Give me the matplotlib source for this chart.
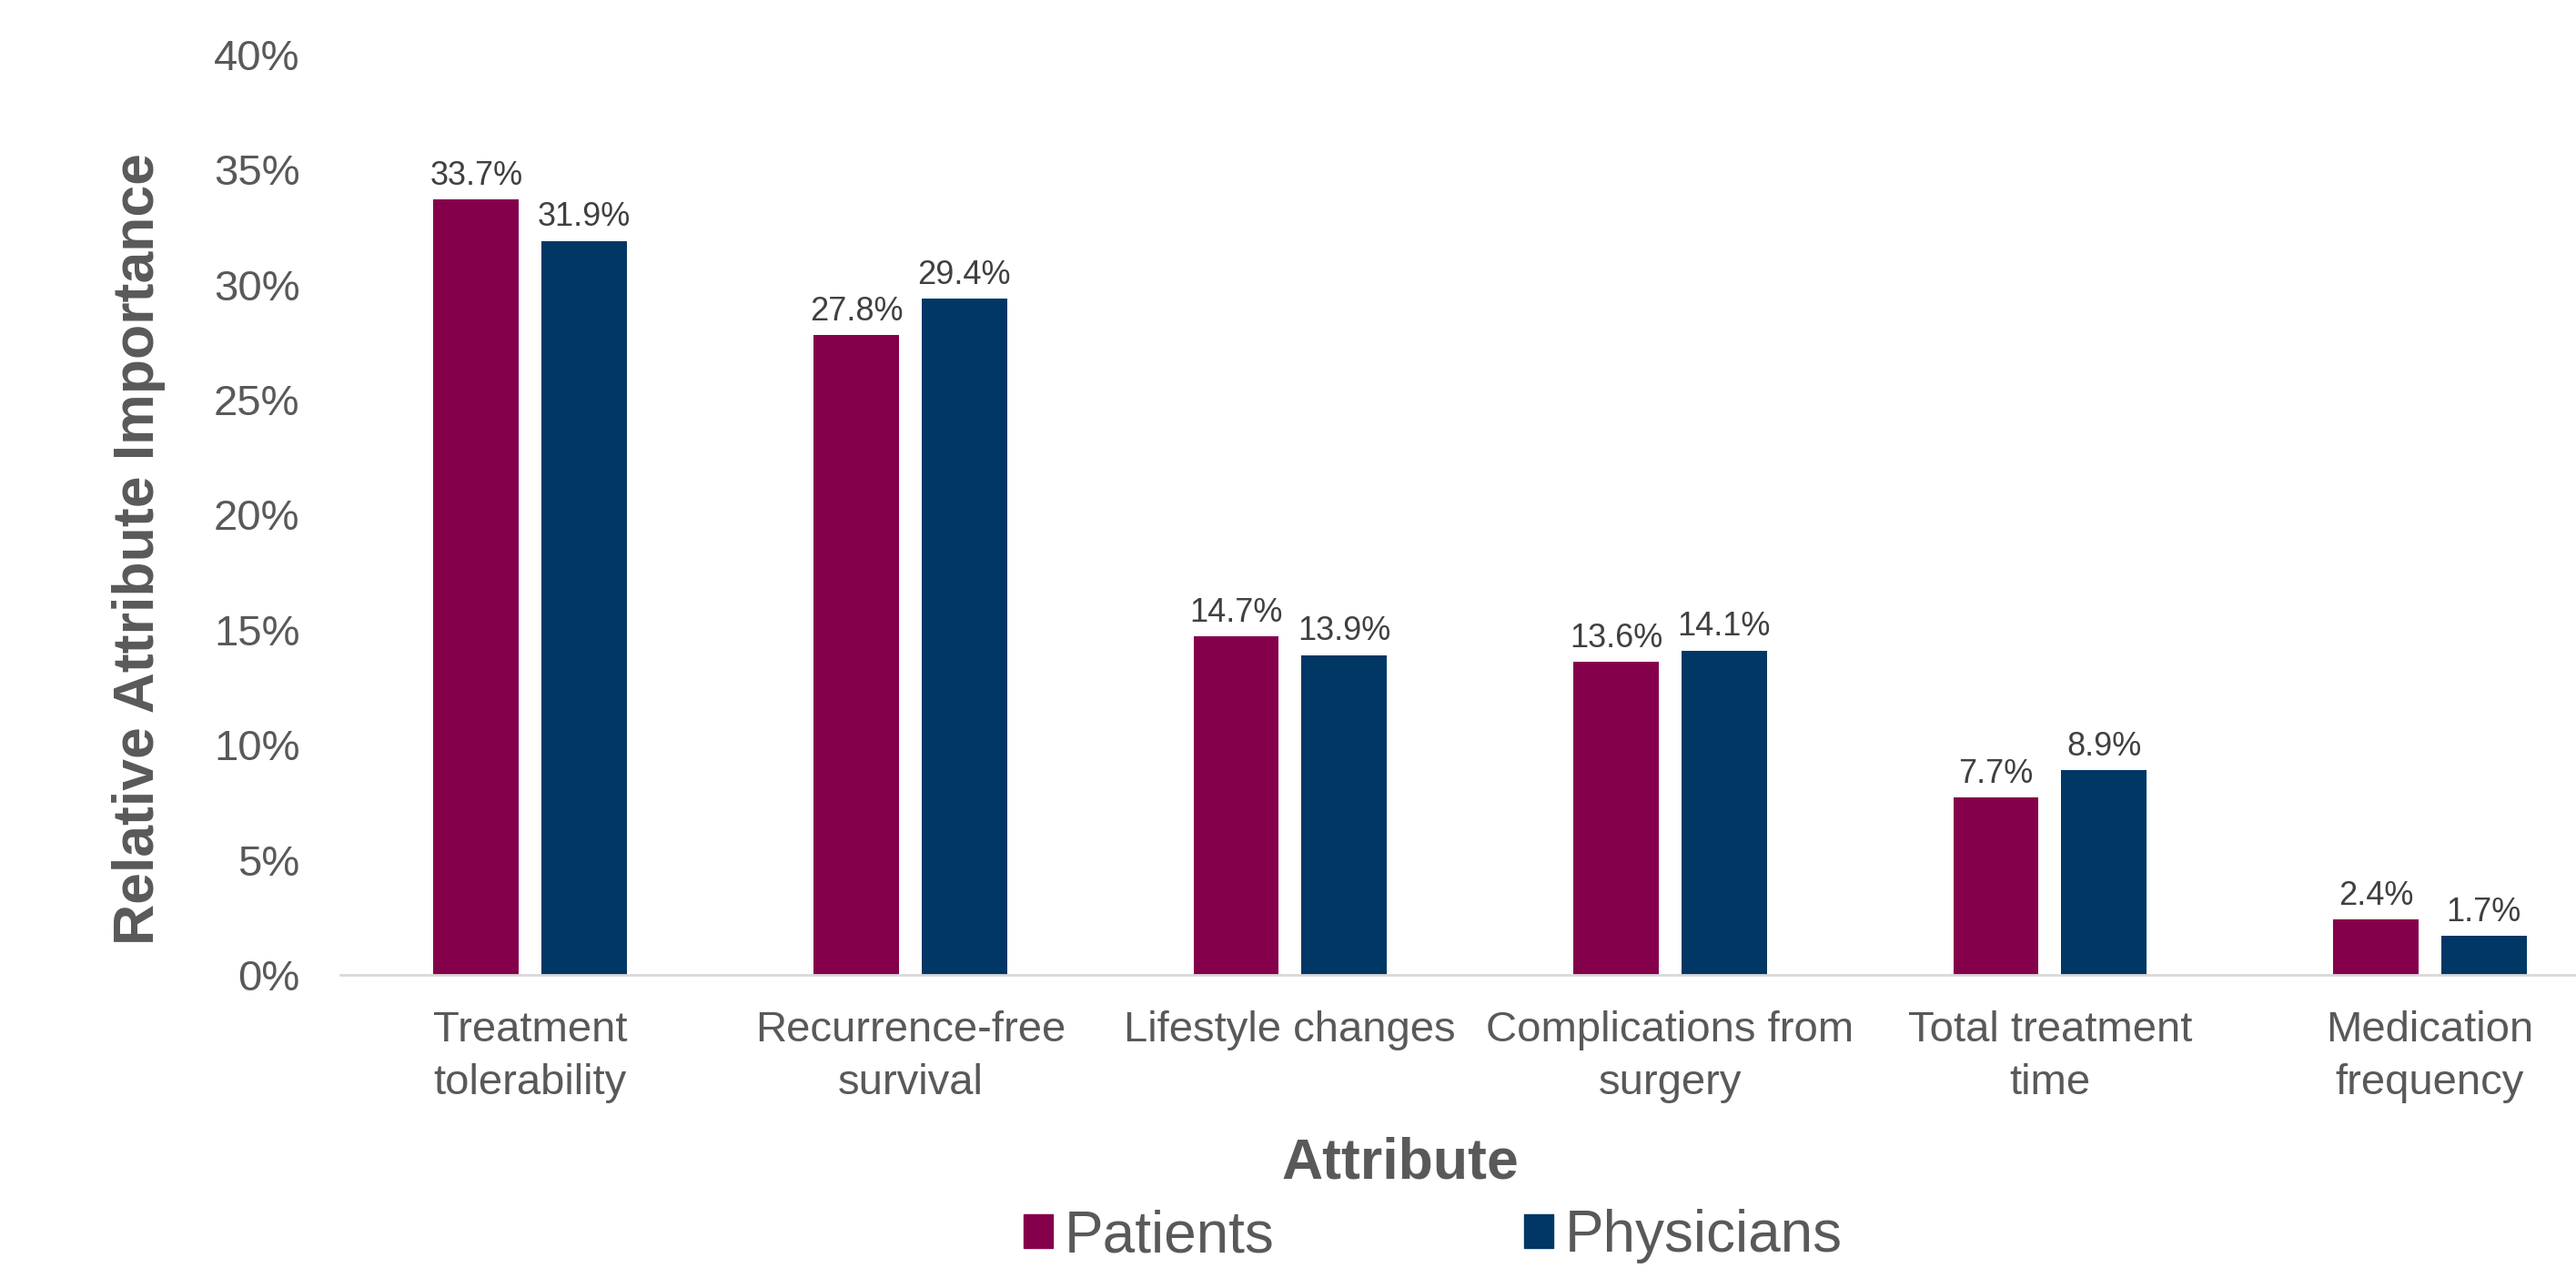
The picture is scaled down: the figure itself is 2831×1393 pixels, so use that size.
import matplotlib
matplotlib.use("Agg")
import matplotlib.pyplot as plt
from matplotlib.patches import Patch
import numpy as np

categories = ["Treatment\ntolerability", "Recurrence-free\nsurvival", "Lifestyle changes",
              "Complications from\nsurgery", "Total treatment\ntime", "Medication\nfrequency"]
patients = [33.7, 27.8, 14.7, 13.6, 7.7, 2.4]
physicians = [31.9, 29.4, 13.9, 14.1, 8.9, 1.7]
yticks = [0, 5, 10, 15, 20, 25, 30, 35, 40]
ytick_labels = [f"{v}%" for v in yticks]

C_PAT = "#85004B"
C_PHY = "#003764"
GRAY = "#595959"
LABEL = "#404040"

plt.rcParams['font.family'] = ['Liberation Sans', 'DejaVu Sans']

W, H = 2831, 1393
fig = plt.figure(figsize=(W / 100, H / 100), dpi=100)
left, right, top, bottom = 374, 2831, 60, 1071
ax = fig.add_axes([left / W, 1 - bottom / H, (right - left) / W, (bottom - top) / H])

x = np.arange(len(categories))
bw = 0.225
off = 0.142
b1 = ax.bar(x - off, patients, bw, color=C_PAT)
b2 = ax.bar(x + off, physicians, bw, color=C_PHY)

for bars, vals in ((b1, patients), (b2, physicians)):
    for rect, v in zip(bars, vals):
        ax.annotate(f"{v:.1f}%", (rect.get_x() + rect.get_width() / 2, v),
                    xytext=(0, 6), textcoords="offset points",
                    ha="center", va="bottom", fontsize=26, color=LABEL)

ax.set_xlim(-0.5, 5.385)
ax.set_ylim(0, 40)
ax.set_yticks(yticks)
ax.set_yticklabels(ytick_labels, fontsize=34, color=GRAY)
ax.set_xticks(x)
ax.set_xticklabels(categories, fontsize=34, color=GRAY, linespacing=1.42)
ax.tick_params(axis="y", length=0, pad=32)
ax.tick_params(axis="x", length=0, pad=28)
for s in ("top", "right", "left"):
    ax.spines[s].set_visible(False)
ax.spines["bottom"].set_color("#D9D9D9")
ax.spines["bottom"].set_linewidth(2)

fig.text(153 / W, 1 - 603 / H, "Relative Attribute Importance", rotation=90,
         ha="center", va="center", fontsize=45, fontweight="bold", color=GRAY)
fig.text(1539 / W, 1 - 1278 / H, "Attribute", ha="center", va="center",
         fontsize=45, fontweight="bold", color=GRAY)

handles = [Patch(color=C_PAT, label="Patients"), Patch(color=C_PHY, label="Physicians")]
fig.legend(handles=handles, loc="center", bbox_to_anchor=(1575 / W, 1 - 1358 / H),
           ncol=2, frameon=False, fontsize=46, handlelength=0.5, handleheight=0.5,
           handletextpad=0.2, columnspacing=4.3, borderpad=0, labelcolor=GRAY)

fig.savefig("out.png", dpi=100)
